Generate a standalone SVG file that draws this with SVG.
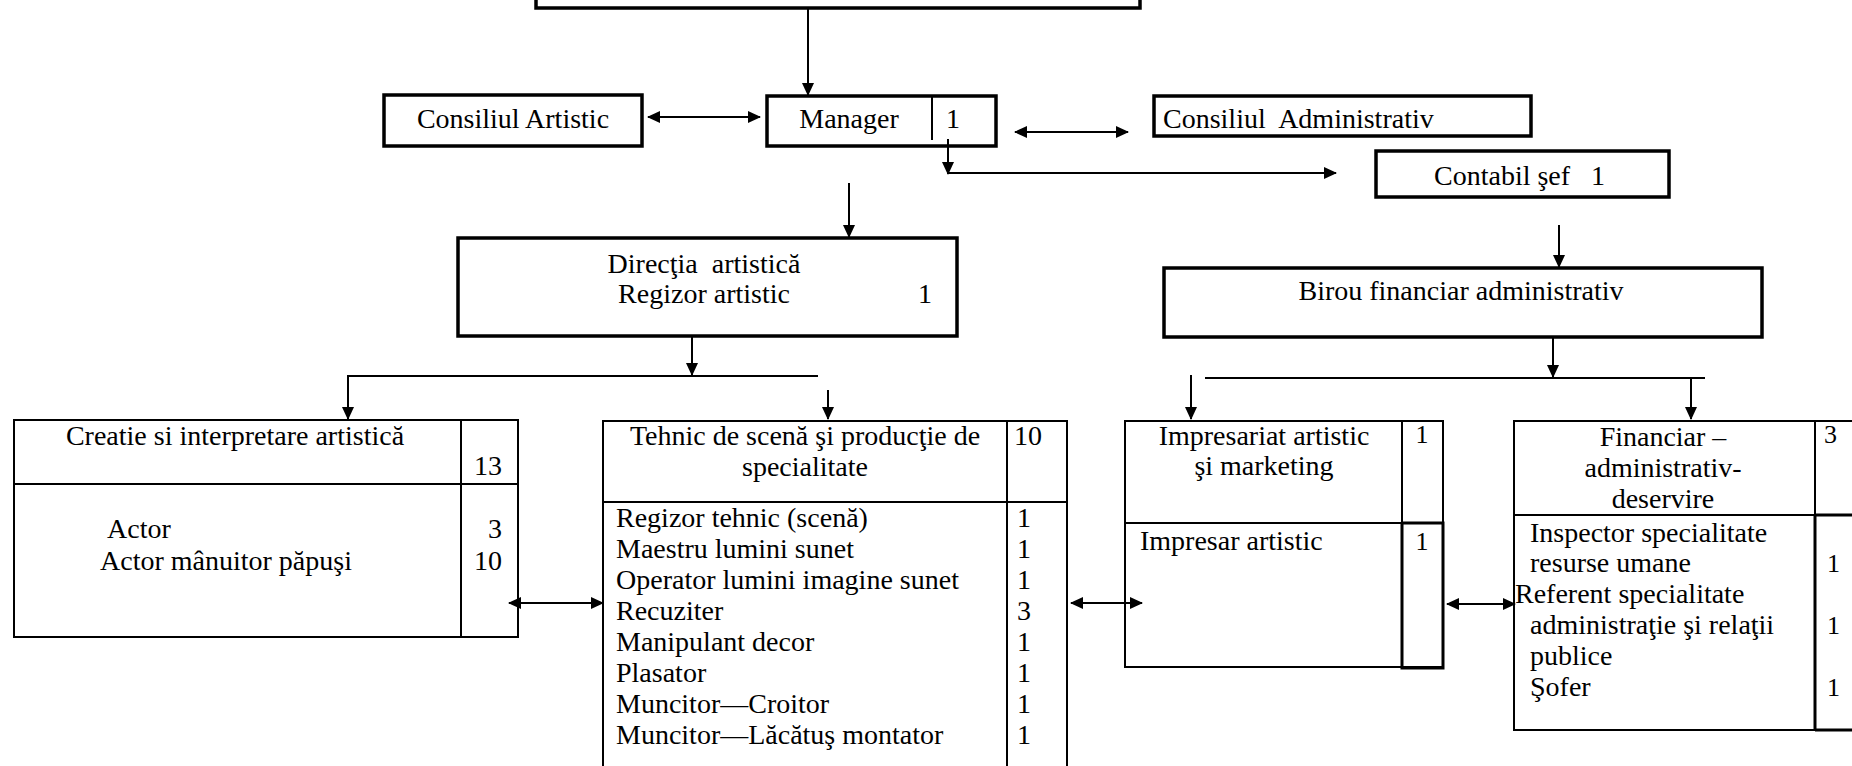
<svg xmlns="http://www.w3.org/2000/svg" width="1852" height="766" viewBox="0 0 1852 766">
<style>
  text { font-family: "Liberation Serif", "Times New Roman", serif; font-size: 28px; fill: #000; }
  .thick { fill: #fff; stroke: #000; stroke-width: 3.5; }
  .thin { fill: #fff; stroke: #000; stroke-width: 2; }
  .ln { fill: none; stroke: #000; stroke-width: 2; }
  .lnb { fill: none; stroke: #000; stroke-width: 3; }
  .c { text-anchor: middle; }
  .e { text-anchor: end; }
  .n { font-size: 26px; }
</style>
<defs>
  <marker id="ah" markerUnits="userSpaceOnUse" markerWidth="13" markerHeight="12" refX="12" refY="6" orient="auto-start-reverse">
    <path d="M0,0 L13,6 L0,12 z" fill="#000"/>
  </marker>
</defs>
<rect width="1852" height="766" fill="#fff"/>

<g id="top-box">
  <rect class="thick" x="536" y="-30" width="604" height="38"/>
</g>

<g id="consiliul-artistic">
  <rect class="thick" x="384" y="95" width="258" height="51"/>
  <text class="c" x="513" y="128">Consiliul Artistic</text>
</g>

<g id="manager">
  <rect class="thick" x="767" y="96" width="229" height="50"/>
  <line class="ln" x1="932" y1="96" x2="932" y2="140"/>
  <text class="c" x="849" y="128">Manager</text>
  <text class="c" x="953" y="128">1</text>
</g>

<g id="consiliul-administrativ">
  <rect class="thick" x="1154" y="96" width="377" height="40"/>
  <text x="1163" y="128" xml:space="preserve">Consiliul  Administrativ</text>
</g>

<g id="contabil-sef">
  <rect class="thick" x="1376" y="151" width="293" height="46"/>
  <text x="1434" y="185" xml:space="preserve">Contabil şef   1</text>
</g>

<g id="directia-artistica">
  <rect class="thick" x="458" y="238" width="499" height="98"/>
  <text class="c" x="704" y="273" xml:space="preserve">Direcţia  artistică</text>
  <text class="c" x="704" y="303">Regizor artistic</text>
  <text class="c" x="925" y="303">1</text>
</g>

<g id="birou-financiar">
  <rect class="thick" x="1164" y="268" width="598" height="69"/>
  <text class="c" x="1461" y="300">Birou financiar administrativ</text>
</g>

<g id="creatie">
  <rect class="thin" x="14" y="420" width="504" height="217"/>
  <line class="ln" x1="14" y1="484" x2="518" y2="484"/>
  <line class="ln" x1="461" y1="420" x2="461" y2="637"/>
  <text class="c" x="235" y="445">Creatie si interpretare artistică</text>
  <text class="e" x="502" y="475">13</text>
  <text x="107" y="538">Actor</text>
  <text x="100" y="570">Actor mânuitor păpuşi</text>
  <text class="e" x="502" y="538">3</text>
  <text class="e" x="502" y="570">10</text>
</g>

<g id="tehnic">
  <rect class="thin" x="603" y="421" width="464" height="370"/>
  <line class="ln" x1="603" y1="502" x2="1067" y2="502"/>
  <line class="ln" x1="1007" y1="421" x2="1007" y2="791"/>
  <text class="c" x="805" y="445">Tehnic de scenă şi producţie de</text>
  <text class="c" x="805" y="476">specialitate</text>
  <text x="1014" y="445">10</text>
  <text x="616" y="527">Regizor tehnic (scenă)</text>
  <text x="616" y="558">Maestru lumini sunet</text>
  <text x="616" y="589">Operator lumini imagine sunet</text>
  <text x="616" y="620">Recuziter</text>
  <text x="616" y="651">Manipulant decor</text>
  <text x="616" y="682">Plasator</text>
  <text x="616" y="713">Muncitor—Croitor</text>
  <text x="616" y="744">Muncitor—Lăcătuş montator</text>
  <text class="c" x="1024" y="527">1</text>
  <text class="c" x="1024" y="558">1</text>
  <text class="c" x="1024" y="589">1</text>
  <text class="c" x="1024" y="620">3</text>
  <text class="c" x="1024" y="651">1</text>
  <text class="c" x="1024" y="682">1</text>
  <text class="c" x="1024" y="713">1</text>
  <text class="c" x="1024" y="744">1</text>
</g>

<g id="impresariat">
  <rect class="thin" x="1125" y="421" width="318" height="246"/>
  <line class="ln" x1="1125" y1="523" x2="1443" y2="523"/>
  <line class="ln" x1="1402" y1="421" x2="1402" y2="667"/>
  <polyline class="lnb" points="1402,523 1443,523 1443,668 1402,668 1402,523"/>
  <text class="c" x="1264" y="445">Impresariat artistic</text>
  <text class="c" x="1264" y="475">şi marketing</text>
  <text class="c n" x="1422" y="443">1</text>
  <text x="1140" y="550">Impresar artistic</text>
  <text class="c n" x="1422" y="550">1</text>
</g>

<g id="financiar">
  <rect class="thin" x="1514" y="421" width="360" height="309"/>
  <line class="ln" x1="1514" y1="515" x2="1874" y2="515"/>
  <line class="ln" x1="1815" y1="421" x2="1815" y2="515"/>
  <line class="lnb" x1="1815" y1="515" x2="1874" y2="515"/>
  <line class="lnb" x1="1815" y1="515" x2="1815" y2="731"/>
  <line class="lnb" x1="1815" y1="730" x2="1874" y2="730"/>
  <text class="c" x="1663" y="446">Financiar –</text>
  <text class="c" x="1663" y="477">administrativ-</text>
  <text class="c" x="1663" y="508">deservire</text>
  <text class="n" x="1824" y="443">3</text>
  <text x="1530" y="542">Inspector specialitate</text>
  <text x="1530" y="572">resurse umane</text>
  <text x="1515" y="603">Referent specialitate</text>
  <text x="1530" y="634">administraţie şi relaţii</text>
  <text x="1530" y="665">publice</text>
  <text x="1530" y="696">Şofer</text>
  <text class="n" x="1827" y="572">1</text>
  <text class="n" x="1827" y="634">1</text>
  <text class="n" x="1827" y="696">1</text>
</g>

<g id="connectors">
  <line class="ln" x1="808" y1="9" x2="808" y2="95" marker-end="url(#ah)"/>
  <line class="ln" x1="648" y1="117" x2="760" y2="117" marker-start="url(#ah)" marker-end="url(#ah)"/>
  <line class="ln" x1="1015" y1="132" x2="1128" y2="132" marker-start="url(#ah)" marker-end="url(#ah)"/>
  <line class="ln" x1="948" y1="139" x2="948" y2="174" marker-end="url(#ah)"/>
  <line class="ln" x1="948" y1="173" x2="1336" y2="173" marker-end="url(#ah)"/>
  <line class="ln" x1="849" y1="183" x2="849" y2="237" marker-end="url(#ah)"/>
  <line class="ln" x1="1559" y1="225" x2="1559" y2="267" marker-end="url(#ah)"/>
  <line class="ln" x1="692" y1="337" x2="692" y2="375" marker-end="url(#ah)"/>
  <polyline class="ln" points="818,376 348,376 348,419" marker-end="url(#ah)"/>
  <line class="ln" x1="828" y1="390" x2="828" y2="419" marker-end="url(#ah)"/>
  <line class="ln" x1="1553" y1="338" x2="1553" y2="377" marker-end="url(#ah)"/>
  <line class="ln" x1="1205" y1="378" x2="1705" y2="378"/>
  <line class="ln" x1="1691" y1="378" x2="1691" y2="419" marker-end="url(#ah)"/>
  <line class="ln" x1="1191" y1="375" x2="1191" y2="419" marker-end="url(#ah)"/>
  <line class="ln" x1="509" y1="603" x2="603" y2="603" marker-start="url(#ah)" marker-end="url(#ah)"/>
  <line class="ln" x1="1071" y1="603" x2="1142" y2="603" marker-start="url(#ah)" marker-end="url(#ah)"/>
  <line class="ln" x1="1447" y1="604" x2="1515" y2="604" marker-start="url(#ah)" marker-end="url(#ah)"/>
</g>
</svg>
